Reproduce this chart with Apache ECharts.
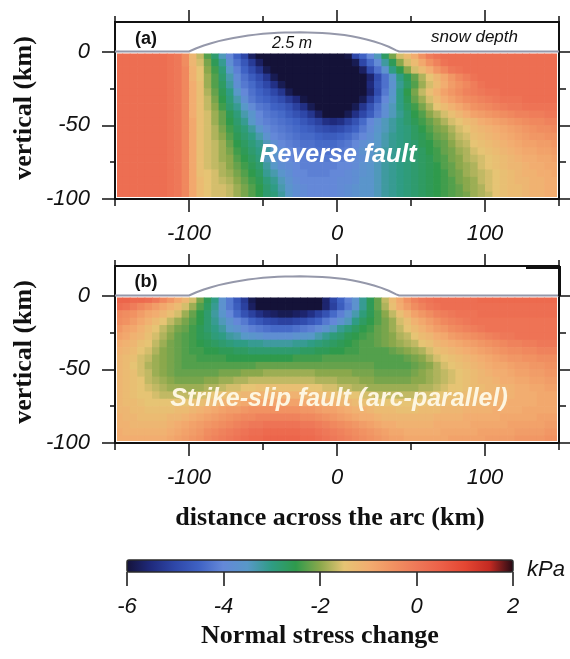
<!DOCTYPE html>
<html><head><meta charset="utf-8">
<script src="https://cdn.jsdelivr.net/npm/echarts@6/dist/echarts.min.js"></script>
<style>html,body{margin:0;padding:0;background:#fff}#c{width:570px;height:659px}</style>
</head><body><div id="c"></div>
<script>
// ---------- data ----------
const xCells = [-147.5,-142.5,-137.5,-132.5,-127.5,-122.5,-117.5,-112.5,-107.5,-102.5,-97.5,-92.5,-87.5,-82.5,-77.5,-72.5,-67.5,-62.5,-57.5,-52.5,-47.5,-42.5,-37.5,-32.5,-27.5,-22.5,-17.5,-12.5,-7.5,-2.5,2.5,7.5,12.5,17.5,22.5,27.5,32.5,37.5,42.5,47.5,52.5,57.5,62.5,67.5,72.5,77.5,82.5,87.5,92.5,97.5,102.5,107.5,112.5,117.5,122.5,127.5,132.5,137.5,142.5,147.5];
const zCells = [-2.5,-7.5,-12.5,-17.5,-22.5,-27.5,-32.5,-37.5,-42.5,-47.5,-52.5,-57.5,-62.5,-67.5,-72.5,-77.5,-82.5,-87.5,-92.5,-97.5];

// (a) Reverse fault, normal stress change (kPa), one row per depth
const reverseFault = [
[0.2,0.2,0.2,0.2,0.2,0.2,0.2,0.1,0.0,-0.4, -1.2,-1.7,-2.3,-2.8,-3.4,-4.0,-4.5,-5.0,-5.7,-6, -6,-6,-6,-6,-6,-6,-6,-6,-6,-6, -6,-5.9,-5.0,-4.5,-4.0,-3.4,-2.7,-2.1,-1.6,-1.3, -1.0,-0.5,-0.1,0.1,0.2,0.2,0.2,0.2,0.2,0.2, 0.2,0.2,0.2,0.2,0.2,0.2,0.2,0.2,0.2,0.2],
[0.2,0.2,0.2,0.2,0.2,0.2,0.2,0.1,0.0,-0.4, -1.2,-1.6,-2.1,-2.6,-3.1,-3.8,-4.3,-4.7,-5.2,-5.7, -6,-6,-6,-6,-6,-6,-6,-6,-6,-6, -6,-6,-5.8,-5.0,-4.4,-3.9,-3.2,-2.6,-2.0,-1.6, -1.3,-0.9,-0.5,-0.2,0.1,0.2,0.2,0.2,0.2,0.2, 0.2,0.2,0.2,0.2,0.2,0.2,0.2,0.2,0.2,0.2],
[0.2,0.2,0.2,0.2,0.2,0.2,0.2,0.1,0.0,-0.3, -1.1,-1.5,-2.0,-2.4,-2.9,-3.5,-4.1,-4.5,-4.9,-5.3, -5.8,-6,-6,-6,-6,-6,-6,-6,-6,-6, -6,-6,-6,-5.7,-4.9,-4.3,-3.7,-3.0,-2.5,-2.0, -1.6,-1.3,-1.0,-0.6,-0.3,0.0,0.1,0.2,0.2,0.2, 0.2,0.2,0.2,0.2,0.2,0.2,0.2,0.2,0.2,0.2],
[0.2,0.2,0.2,0.2,0.2,0.2,0.2,0.1,0.0,-0.3, -1.1,-1.5,-1.9,-2.3,-2.8,-3.3,-3.9,-4.3,-4.6,-4.9, -5.3,-5.8,-6,-6,-6,-6,-6,-6,-6,-6, -6,-6,-6,-6,-5.6,-4.9,-4.3,-3.6,-3.0,-2.6, -2.2,-1.8,-1.5,-1.2,-0.9,-0.6,-0.3,-0.1,0.1,0.2, 0.2,0.2,0.2,0.2,0.2,0.2,0.2,0.2,0.2,0.2],
[0.2,0.2,0.2,0.2,0.2,0.2,0.2,0.1,0.0,-0.3, -1.0,-1.4,-1.9,-2.3,-2.7,-3.2,-3.8,-4.2,-4.4,-4.7, -5.0,-5.4,-5.8,-6,-6,-6,-6,-6,-6,-6, -6,-6,-6,-6,-5.5,-4.8,-4.3,-3.7,-3.1,-2.7, -2.3,-1.9,-1.6,-1.3,-1.0,-0.7,-0.5,-0.3,-0.1,0.1, 0.2,0.2,0.2,0.2,0.2,0.2,0.2,0.2,0.2,0.2],
[0.2,0.2,0.2,0.2,0.2,0.2,0.2,0.1,0.0,-0.3, -1.0,-1.4,-1.8,-2.2,-2.6,-3.0,-3.5,-4.0,-4.3,-4.5, -4.7,-5.0,-5.3,-5.8,-6,-6,-6,-6,-6,-6, -6,-6,-6,-6,-5.6,-4.9,-4.2,-3.6,-3.0,-2.5, -2.1,-1.7,-1.4,-1.1,-0.8,-0.6,-0.4,-0.2,-0.1,0.0, 0.1,0.1,0.2,0.2,0.2,0.2,0.2,0.2,0.2,0.2],
[0.2,0.2,0.2,0.2,0.2,0.2,0.2,0.1,0.0,-0.3, -1.0,-1.4,-1.7,-2.1,-2.5,-2.9,-3.3,-3.8,-4.2,-4.4, -4.5,-4.7,-4.9,-5.2,-5.5,-5.9,-6,-6,-6,-6, -6,-6,-6,-5.8,-5.2,-4.6,-4.0,-3.5,-3.0,-2.6, -2.2,-1.9,-1.6,-1.3,-1.0,-0.8,-0.6,-0.4,-0.3,-0.2, -0.1,0.0,0.1,0.1,0.1,0.2,0.2,0.2,0.2,0.2],
[0.2,0.2,0.2,0.2,0.2,0.2,0.2,0.1,0.0,-0.3, -1.0,-1.4,-1.7,-2.0,-2.4,-2.8,-3.1,-3.5,-3.9,-4.2, -4.3,-4.5,-4.6,-4.8,-5.1,-5.4,-5.8,-6,-6,-6, -6,-6,-5.8,-5.3,-4.8,-4.3,-3.8,-3.4,-3.0,-2.7, -2.4,-2.1,-1.8,-1.5,-1.3,-1.1,-0.9,-0.7,-0.5,-0.4, -0.3,-0.2,-0.1,0.0,0.0,0.1,0.1,0.1,0.1,0.1],
[0.2,0.2,0.2,0.2,0.2,0.2,0.2,0.1,0.0,-0.3, -1.0,-1.4,-1.6,-1.9,-2.2,-2.6,-2.9,-3.3,-3.6,-4.0, -4.2,-4.3,-4.4,-4.6,-4.8,-5.0,-5.3,-5.7,-6,-6, -6,-5.8,-5.4,-5.0,-4.6,-4.2,-3.8,-3.4,-3.1,-2.8, -2.5,-2.3,-2.0,-1.8,-1.6,-1.4,-1.2,-1.0,-0.8,-0.7, -0.6,-0.5,-0.4,-0.3,-0.2,-0.2,-0.1,-0.1,0.0,0.0],
[0.2,0.2,0.2,0.2,0.2,0.2,0.2,0.1,0.0,-0.3, -0.9,-1.4,-1.6,-1.9,-2.2,-2.5,-2.8,-3.1,-3.5,-3.9, -4.1,-4.2,-4.3,-4.4,-4.5,-4.7,-4.9,-5.1,-5.4,-5.5, -5.4,-5.1,-4.8,-4.4,-4.0,-3.7,-3.4,-3.2,-3.0,-2.8, -2.6,-2.4,-2.2,-2.0,-1.8,-1.6,-1.5,-1.3,-1.2,-1.0, -0.9,-0.8,-0.7,-0.6,-0.5,-0.4,-0.3,-0.3,-0.2,-0.2],
[0.2,0.2,0.2,0.2,0.2,0.2,0.2,0.1,0.0,-0.3, -0.9,-1.4,-1.6,-1.8,-2.1,-2.4,-2.7,-2.9,-3.2,-3.6, -3.9,-4.1,-4.2,-4.3,-4.4,-4.5,-4.6,-4.8,-4.9,-5.0, -4.9,-4.7,-4.5,-4.2,-3.9,-3.6,-3.4,-3.2,-3.0,-2.9, -2.7,-2.5,-2.3,-2.1,-2.0,-1.8,-1.6,-1.5,-1.3,-1.2, -1.1,-1.0,-0.9,-0.8,-0.7,-0.6,-0.5,-0.4,-0.4,-0.3],
[0.2,0.2,0.2,0.2,0.2,0.2,0.2,0.1,0.0,-0.3, -0.9,-1.4,-1.6,-1.8,-2.0,-2.3,-2.6,-2.8,-3.0,-3.3, -3.7,-4.0,-4.1,-4.2,-4.3,-4.4,-4.4,-4.5,-4.6,-4.6, -4.5,-4.4,-4.2,-4.0,-3.8,-3.5,-3.3,-3.1,-3.0,-2.9, -2.7,-2.6,-2.4,-2.2,-2.1,-1.9,-1.7,-1.6,-1.4,-1.3, -1.2,-1.1,-1.0,-0.9,-0.8,-0.7,-0.6,-0.6,-0.5,-0.5],
[0.2,0.2,0.2,0.2,0.2,0.2,0.2,0.1,0.0,-0.3, -0.9,-1.4,-1.6,-1.7,-1.9,-2.2,-2.5,-2.7,-2.9,-3.1, -3.4,-3.8,-4.0,-4.1,-4.2,-4.3,-4.3,-4.4,-4.4,-4.4, -4.3,-4.2,-4.0,-3.8,-3.7,-3.5,-3.3,-3.1,-3.0,-2.9, -2.8,-2.6,-2.5,-2.3,-2.2,-2.0,-1.8,-1.7,-1.5,-1.4, -1.3,-1.2,-1.1,-1.0,-0.9,-0.8,-0.8,-0.7,-0.7,-0.6],
[0.2,0.2,0.2,0.2,0.2,0.2,0.2,0.1,0.0,-0.3, -0.9,-1.4,-1.6,-1.7,-1.9,-2.1,-2.4,-2.6,-2.8,-3.0, -3.2,-3.5,-3.8,-4.0,-4.1,-4.2,-4.2,-4.3,-4.3,-4.3, -4.2,-4.1,-3.9,-3.7,-3.6,-3.4,-3.2,-3.1,-3.0,-2.9, -2.8,-2.7,-2.5,-2.4,-2.2,-2.1,-1.9,-1.8,-1.6,-1.5, -1.4,-1.3,-1.2,-1.1,-1.0,-0.9,-0.9,-0.8,-0.8,-0.7],
[0.2,0.2,0.2,0.2,0.2,0.2,0.2,0.1,0.0,-0.3, -0.9,-1.4,-1.6,-1.7,-1.9,-2.0,-2.3,-2.5,-2.7,-2.9, -3.4,-3.7,-3.9,-4.0,-4.1,-4.1,-4.2,-4.2,-4.2,-4.1, -4.1,-4.0,-3.9,-3.8,-3.6,-3.4,-3.2,-3.1,-3.0,-2.9, -2.8,-2.7,-2.6,-2.4,-2.3,-2.1,-2.0,-1.8,-1.7,-1.6, -1.5,-1.4,-1.3,-1.2,-1.1,-1.0,-1.0,-0.9,-0.9,-0.8],
[0.2,0.2,0.2,0.2,0.2,0.2,0.2,0.1,0.0,-0.3, -0.9,-1.4,-1.6,-1.7,-1.8,-2.0,-2.2,-2.4,-2.6,-2.8, -3.2,-3.5,-3.8,-3.9,-4.0,-4.1,-4.1,-4.1,-4.1,-4.1, -4.0,-4.0,-3.9,-3.7,-3.6,-3.4,-3.2,-3.1,-3.0,-2.9, -2.8,-2.7,-2.6,-2.5,-2.3,-2.2,-2.0,-1.9,-1.8,-1.6, -1.5,-1.4,-1.3,-1.2,-1.2,-1.1,-1.0,-1.0,-0.9,-0.9],
[0.2,0.2,0.2,0.2,0.2,0.2,0.2,0.1,0.0,-0.3, -0.9,-1.4,-1.5,-1.6,-1.8,-1.9,-2.1,-2.3,-2.5,-2.7, -3.1,-3.3,-3.6,-3.8,-4.0,-4.0,-4.1,-4.1,-4.1,-4.0, -4.0,-3.9,-3.8,-3.7,-3.6,-3.4,-3.2,-3.1,-3.0,-2.9, -2.8,-2.7,-2.6,-2.5,-2.4,-2.2,-2.1,-1.9,-1.8,-1.7, -1.6,-1.5,-1.4,-1.3,-1.2,-1.1,-1.1,-1.0,-1.0,-0.9],
[0.2,0.2,0.2,0.2,0.2,0.2,0.2,0.1,0.0,-0.3, -0.9,-1.3,-1.5,-1.6,-1.7,-1.8,-2.0,-2.2,-2.4,-2.6, -2.9,-3.1,-3.4,-3.7,-3.9,-4.0,-4.0,-4.0,-4.0,-4.0, -3.9,-3.9,-3.8,-3.6,-3.6,-3.4,-3.2,-3.1,-3.0,-2.9, -2.8,-2.7,-2.6,-2.5,-2.4,-2.3,-2.1,-2.0,-1.9,-1.7, -1.6,-1.5,-1.4,-1.3,-1.2,-1.2,-1.1,-1.1,-1.0,-1.0],
[0.2,0.2,0.2,0.2,0.2,0.2,0.2,0.1,0.0,-0.3, -0.9,-1.3,-1.5,-1.6,-1.6,-1.7,-1.9,-2.1,-2.3,-2.5, -2.8,-3.0,-3.3,-3.6,-3.8,-3.9,-4.0,-4.0,-4.0,-4.0, -3.9,-3.8,-3.7,-3.6,-3.6,-3.4,-3.2,-3.1,-3.0,-2.9, -2.8,-2.7,-2.6,-2.5,-2.4,-2.3,-2.2,-2.0,-1.9,-1.8, -1.6,-1.5,-1.4,-1.3,-1.3,-1.2,-1.1,-1.1,-1.0,-1.0],
[0.2,0.2,0.2,0.2,0.2,0.2,0.2,0.1,0.0,-0.3, -0.9,-1.3,-1.5,-1.6,-1.6,-1.7,-1.9,-2.1,-2.3,-2.5, -2.8,-2.9,-3.2,-3.5,-3.8,-3.9,-4.0,-4.0,-4.0,-4.0, -3.9,-3.8,-3.7,-3.6,-3.6,-3.4,-3.2,-3.1,-3.0,-2.9, -2.8,-2.7,-2.6,-2.5,-2.4,-2.3,-2.2,-2.1,-1.9,-1.8, -1.7,-1.5,-1.4,-1.3,-1.3,-1.2,-1.1,-1.1,-1.0,-1.0]
];

// (b) Strike-slip fault (arc-parallel)
const strikeSlip = [
[0.4,0.4,0.3,0.3,0.2,0.0,-0.3,-0.6,-0.9,-1.2, -1.6,-2.1,-2.6,-3.0,-3.7,-4.2,-4.7,-5.2,-5.8,-6, -6,-6,-6,-6,-6,-6,-6,-6,-5.6,-5.0, -4.5,-4.1,-3.7,-3.1,-2.6,-2.2,-1.7,-1.3,-0.9,-0.5, -0.2,0.0,0.1,0.2,0.2,0.2,0.2,0.2,0.2,0.3, 0.3,0.3,0.3,0.3,0.3,0.3,0.3,0.3,0.3,0.3],
[0.2,0.1,-0.1,-0.3,-0.5,-0.7,-0.9,-1.1,-1.3,-1.6, -1.9,-2.3,-2.7,-3.1,-3.7,-4.2,-4.6,-5.1,-5.7,-6, -6,-6,-6,-6,-6,-6,-6,-6,-5.6,-5.1, -4.6,-4.2,-3.7,-3.1,-2.6,-2.2,-1.8,-1.4,-1.0,-0.7, -0.4,-0.2,0.0,0.1,0.2,0.2,0.2,0.2,0.2,0.2, 0.2,0.2,0.2,0.2,0.2,0.2,0.2,0.2,0.2,0.2],
[-0.3,-0.4,-0.5,-0.7,-0.9,-1.0,-1.2,-1.4,-1.6,-1.9, -2.2,-2.5,-2.8,-3.2,-3.6,-4.0,-4.4,-4.8,-5.1,-5.4, -5.6,-5.7,-5.8,-5.8,-5.7,-5.6,-5.4,-5.1,-4.8,-4.4, -4.1,-3.7,-3.3,-2.9,-2.6,-2.3,-2.0,-1.7,-1.4,-1.1, -0.8,-0.6,-0.4,-0.2,-0.1,0.0,0.1,0.1,0.1,0.2, 0.2,0.2,0.2,0.2,0.2,0.2,0.2,0.2,0.2,0.2],
[-0.4,-0.5,-0.7,-0.9,-1.1,-1.3,-1.5,-1.7,-1.9,-2.1, -2.3,-2.5,-2.8,-3.1,-3.4,-3.7,-4.0,-4.2,-4.5,-4.7, -4.9,-5.0,-5.1,-5.1,-5.0,-4.9,-4.7,-4.5,-4.2,-4.0, -3.7,-3.4,-3.0,-2.7,-2.5,-2.3,-2.1,-1.9,-1.6,-1.4, -1.1,-0.9,-0.7,-0.5,-0.3,-0.2,-0.1,0.0,0.1,0.1, 0.1,0.1,0.1,0.1,0.1,0.1,0.1,0.1,0.1,0.1],
[-0.6,-0.8,-0.9,-1.1,-1.3,-1.5,-1.7,-1.9,-2.1,-2.2, -2.4,-2.6,-2.8,-3.0,-3.2,-3.5,-3.7,-3.9,-4.1,-4.2, -4.3,-4.4,-4.4,-4.4,-4.3,-4.2,-4.1,-3.9,-3.7,-3.4, -3.1,-2.9,-2.7,-2.5,-2.4,-2.2,-2.1,-1.9,-1.7,-1.5, -1.3,-1.1,-0.9,-0.7,-0.6,-0.4,-0.3,-0.2,-0.1,0.0, 0.1,0.1,0.1,0.1,0.1,0.1,0.1,0.1,0.1,0.1],
[-0.8,-0.9,-1.1,-1.2,-1.4,-1.6,-1.8,-2.0,-2.2,-2.3, -2.4,-2.6,-2.7,-2.9,-3.0,-3.2,-3.3,-3.5,-3.6,-3.7, -3.8,-3.8,-3.8,-3.8,-3.7,-3.6,-3.5,-3.3,-3.1,-2.9, -2.8,-2.6,-2.5,-2.4,-2.3,-2.2,-2.1,-2.0,-1.8,-1.7, -1.5,-1.3,-1.2,-1.0,-0.9,-0.7,-0.6,-0.5,-0.4,-0.3, -0.2,-0.1,0.0,0.0,0.1,0.1,0.1,0.1,0.1,0.1],
[-1.0,-1.1,-1.2,-1.4,-1.5,-1.7,-1.9,-2.1,-2.2,-2.3, -2.4,-2.5,-2.6,-2.7,-2.8,-2.9,-3.0,-3.0,-3.1,-3.1, -3.2,-3.2,-3.2,-3.2,-3.1,-3.1,-3.0,-2.9,-2.8,-2.7, -2.6,-2.5,-2.4,-2.3,-2.3,-2.2,-2.1,-2.0,-1.9,-1.8, -1.7,-1.5,-1.4,-1.2,-1.1,-1.0,-0.9,-0.8,-0.7,-0.6, -0.5,-0.4,-0.3,-0.2,-0.2,-0.1,-0.1,0.0,0.0,0.0],
[-1.1,-1.2,-1.3,-1.5,-1.6,-1.8,-2.0,-2.1,-2.2,-2.3, -2.4,-2.4,-2.5,-2.5,-2.6,-2.6,-2.7,-2.7,-2.8,-2.8, -2.8,-2.8,-2.8,-2.8,-2.8,-2.7,-2.7,-2.6,-2.6,-2.5, -2.5,-2.4,-2.4,-2.3,-2.3,-2.3,-2.3,-2.2,-2.1,-2.0, -1.9,-1.8,-1.6,-1.4,-1.3,-1.2,-1.1,-1.0,-0.9,-0.8, -0.7,-0.6,-0.5,-0.4,-0.4,-0.3,-0.3,-0.2,-0.2,-0.2],
[-1.2,-1.3,-1.4,-1.6,-1.7,-1.9,-2.0,-2.1,-2.2,-2.3, -2.3,-2.4,-2.4,-2.4,-2.4,-2.5,-2.5,-2.5,-2.5,-2.5, -2.5,-2.5,-2.5,-2.5,-2.4,-2.4,-2.4,-2.4,-2.3,-2.3, -2.3,-2.3,-2.3,-2.3,-2.3,-2.3,-2.3,-2.3,-2.3,-2.2, -2.1,-2.0,-1.8,-1.6,-1.5,-1.4,-1.3,-1.2,-1.1,-1.0, -0.9,-0.8,-0.7,-0.6,-0.6,-0.5,-0.5,-0.4,-0.4,-0.4],
[-1.2,-1.3,-1.5,-1.6,-1.8,-1.9,-2.0,-2.1,-2.2,-2.3, -2.3,-2.3,-2.3,-2.3,-2.3,-2.3,-2.3,-2.3,-2.3,-2.2, -2.2,-2.2,-2.2,-2.2,-2.2,-2.2,-2.2,-2.2,-2.2,-2.2, -2.2,-2.2,-2.2,-2.2,-2.2,-2.3,-2.3,-2.3,-2.3,-2.3, -2.2,-2.1,-2.0,-1.8,-1.6,-1.5,-1.4,-1.3,-1.2,-1.1, -1.0,-0.9,-0.9,-0.8,-0.7,-0.7,-0.6,-0.6,-0.5,-0.5],
[-1.2,-1.3,-1.4,-1.6,-1.7,-1.9,-2.0,-2.1,-2.2,-2.2, -2.2,-2.2,-2.2,-2.2,-2.1,-2.1,-2.1,-2.0,-2.0,-2.0, -1.9,-1.9,-1.9,-1.9,-1.9,-1.9,-1.9,-2.0,-2.0,-2.0, -2.0,-2.0,-2.1,-2.1,-2.1,-2.2,-2.2,-2.2,-2.2,-2.2, -2.1,-2.0,-1.9,-1.8,-1.7,-1.6,-1.5,-1.4,-1.3,-1.2, -1.1,-1.0,-1.0,-0.9,-0.8,-0.8,-0.7,-0.7,-0.6,-0.6],
[-1.2,-1.3,-1.4,-1.5,-1.7,-1.8,-1.9,-2.0,-2.1,-2.1, -2.1,-2.1,-2.0,-2.0,-1.9,-1.9,-1.8,-1.8,-1.7,-1.7, -1.7,-1.7,-1.7,-1.7,-1.7,-1.7,-1.7,-1.8,-1.8,-1.8, -1.9,-1.9,-1.9,-2.0,-2.0,-2.1,-2.1,-2.1,-2.1,-2.1, -2.0,-2.0,-1.9,-1.8,-1.7,-1.6,-1.5,-1.4,-1.3,-1.2, -1.2,-1.1,-1.0,-1.0,-0.9,-0.9,-0.8,-0.8,-0.7,-0.7],
[-1.2,-1.3,-1.4,-1.5,-1.6,-1.7,-1.8,-1.9,-1.9,-1.9, -1.9,-1.9,-1.8,-1.8,-1.7,-1.6,-1.6,-1.5,-1.5,-1.4, -1.4,-1.4,-1.4,-1.4,-1.4,-1.4,-1.5,-1.5,-1.6,-1.6, -1.7,-1.7,-1.8,-1.8,-1.9,-1.9,-1.9,-1.9,-1.9,-1.9, -1.9,-1.8,-1.8,-1.7,-1.6,-1.5,-1.5,-1.4,-1.3,-1.3, -1.2,-1.2,-1.1,-1.1,-1.0,-1.0,-0.9,-0.9,-0.8,-0.8],
[-1.2,-1.3,-1.4,-1.5,-1.5,-1.6,-1.7,-1.7,-1.7,-1.7, -1.7,-1.6,-1.6,-1.5,-1.4,-1.4,-1.3,-1.2,-1.2,-1.1, -1.1,-1.1,-1.1,-1.1,-1.1,-1.2,-1.2,-1.3,-1.3,-1.4, -1.4,-1.5,-1.5,-1.6,-1.6,-1.7,-1.7,-1.7,-1.7,-1.7, -1.7,-1.6,-1.6,-1.5,-1.5,-1.4,-1.4,-1.3,-1.3,-1.2, -1.2,-1.1,-1.1,-1.1,-1.0,-1.0,-1.0,-0.9,-0.9,-0.9],
[-1.2,-1.3,-1.3,-1.4,-1.5,-1.5,-1.5,-1.5,-1.5,-1.5, -1.4,-1.4,-1.3,-1.2,-1.1,-1.1,-1.0,-0.9,-0.9,-0.8, -0.8,-0.8,-0.8,-0.8,-0.8,-0.9,-0.9,-1.0,-1.1,-1.1, -1.2,-1.2,-1.3,-1.4,-1.4,-1.5,-1.5,-1.5,-1.5,-1.5, -1.5,-1.5,-1.4,-1.4,-1.3,-1.3,-1.3,-1.2,-1.2,-1.2, -1.1,-1.1,-1.1,-1.0,-1.0,-1.0,-1.0,-0.9,-0.9,-0.9],
[-1.2,-1.2,-1.3,-1.3,-1.4,-1.4,-1.4,-1.4,-1.3,-1.3, -1.2,-1.1,-1.0,-0.9,-0.8,-0.7,-0.7,-0.6,-0.5,-0.5, -0.5,-0.5,-0.5,-0.5,-0.5,-0.6,-0.6,-0.7,-0.8,-0.8, -0.9,-1.0,-1.1,-1.1,-1.2,-1.3,-1.3,-1.3,-1.4,-1.4, -1.4,-1.3,-1.3,-1.3,-1.2,-1.2,-1.2,-1.1,-1.1,-1.1, -1.1,-1.0,-1.0,-1.0,-1.0,-0.9,-0.9,-0.9,-0.9,-0.9],
[-1.1,-1.2,-1.2,-1.3,-1.3,-1.3,-1.3,-1.2,-1.2,-1.1, -1.0,-0.9,-0.8,-0.7,-0.6,-0.5,-0.4,-0.3,-0.3,-0.2, -0.2,-0.2,-0.2,-0.2,-0.2,-0.3,-0.3,-0.4,-0.5,-0.6, -0.7,-0.8,-0.9,-1.0,-1.0,-1.1,-1.2,-1.2,-1.2,-1.2, -1.2,-1.2,-1.2,-1.1,-1.1,-1.1,-1.1,-1.0,-1.0,-1.0, -1.0,-1.0,-0.9,-0.9,-0.9,-0.9,-0.9,-0.8,-0.8,-0.8],
[-1.1,-1.1,-1.2,-1.2,-1.2,-1.2,-1.2,-1.1,-1.0,-0.9, -0.8,-0.7,-0.6,-0.5,-0.4,-0.3,-0.2,-0.1,0.0,0.0, 0.1,0.1,0.1,0.1,0.1,0.0,0.0,-0.1,-0.2,-0.3, -0.4,-0.5,-0.6,-0.7,-0.8,-0.9,-1.0,-1.0,-1.1,-1.1, -1.1,-1.1,-1.1,-1.0,-1.0,-1.0,-1.0,-1.0,-0.9,-0.9, -0.9,-0.9,-0.9,-0.8,-0.8,-0.8,-0.8,-0.8,-0.7,-0.7],
[-1.0,-1.1,-1.1,-1.1,-1.1,-1.1,-1.1,-1.0,-0.9,-0.8, -0.7,-0.6,-0.4,-0.3,-0.2,-0.1,0.0,0.1,0.2,0.2, 0.3,0.3,0.3,0.3,0.3,0.2,0.2,0.1,0.0,-0.1, -0.2,-0.3,-0.4,-0.5,-0.6,-0.7,-0.8,-0.9,-0.9,-1.0, -1.0,-1.0,-1.0,-1.0,-0.9,-0.9,-0.9,-0.9,-0.9,-0.8, -0.8,-0.8,-0.8,-0.8,-0.7,-0.7,-0.7,-0.7,-0.6,-0.6],
[-1.0,-1.0,-1.0,-1.0,-1.0,-1.0,-1.0,-0.9,-0.8,-0.7, -0.6,-0.5,-0.3,-0.2,-0.1,0.0,0.1,0.2,0.3,0.3, 0.4,0.4,0.4,0.4,0.4,0.3,0.3,0.2,0.1,0.0, -0.1,-0.2,-0.3,-0.4,-0.5,-0.6,-0.7,-0.8,-0.8,-0.9, -0.9,-0.9,-0.9,-0.9,-0.9,-0.8,-0.8,-0.8,-0.8,-0.8, -0.7,-0.7,-0.7,-0.7,-0.6,-0.6,-0.6,-0.6,-0.5,-0.5]
];

// snow load profile (depth in metres along the section)
const snowX = [-150,-100,-95,-90,-85,-80,-75,-70,-65,-60,-55,-50,-45,-40,-35,-30,-25,-20,-15,-10,-5,0,5,10,15,20,25,30,35,40,42,150];
const snowDepth = [0,0,0.42,0.78,1.08,1.35,1.57,1.77,1.93,2.08,2.2,2.3,2.38,2.43,2.47,2.49,2.5,2.49,2.46,2.42,2.35,2.26,2.14,1.99,1.8,1.57,1.3,1.0,0.62,0.15,0,0];

const xTicks = [-100, 0, 100];
const xMinor = [-150, -50, 50, 150];
const zTicks = [-100, -50, 0];
const zMinor = [-75, -25];
const cbRange = [-6, 2];
const cbTicks = [-6, -4, -2, 0, 2];
const palette = ['#141238','#1f2a7c','#2e47a8','#3f62c4','#6488d8','#5898c8','#2f9c84','#2f9a4c','#8aa84c','#e6c474','#f2ad70','#f19262','#ee7858','#ec6048','#e44632','#c42a22','#200a14'];

// ---------- chart ----------
const SNOW_KM_PER_M = 5.2; // vertical exaggeration of the snow profile
const SANS = '"Liberation Sans", Arial, Helvetica, sans-serif';
const SERIF = '"Liberation Serif", "Times New Roman", serif';
const TICK = {color: '#111', width: 1.5};
const LABEL = {fontFamily: SANS, fontStyle: 'italic', fontSize: 22, color: '#111'};

function cells(rows) {
  const out = [];
  rows.forEach((r, j) => r.forEach((v, i) => out.push([xCells[i], zCells[j], v])));
  return out;
}
function renderCell(params, api) {
  const x = api.value(0), z = api.value(1);
  const a = api.coord([x - 2.5, z + 2.5]);
  const b = api.coord([x + 2.5, z - 2.5]);
  const tl = api.coord([-150, 0]);
  const br = api.coord([150, -100]);
  const clipR = {x: tl[0] + 2, y: tl[1] + 2, width: br[0] - tl[0] - 4, height: br[1] - tl[1] - 4};
  const r = echarts.graphic.clipRectByRect({x: a[0], y: a[1], width: b[0] - a[0] + 0.7, height: b[1] - a[1] + 0.7}, clipR);
  if (!r) return;
  return {type: 'rect', shape: r, style: {fill: api.visual('color')}};
}
function tickAxis(dim, g, pos, vals, len, labels) {
  const ax = {gridIndex: g, type: 'value', position: pos, axisLine: {show: false, onZero: false}, splitLine: {show: false},
    axisTick: {show: true, customValues: vals, length: len, lineStyle: TICK},
    axisLabel: labels ? Object.assign({}, LABEL, {customValues: vals, margin: dim === 'x' ? 24 : 25}) : {show: false}};
  if (dim === 'x') { ax.min = -150; ax.max = 150; } else { ax.min = -100; ax.max = 20; }
  return ax;
}
function xAxesFor(g) {
  return [tickAxis('x', g, 'bottom', xTicks, 13, true), tickAxis('x', g, 'bottom', xMinor, 7, false),
          tickAxis('x', g, 'top', xTicks, 12, false), tickAxis('x', g, 'top', xMinor, 6, false)];
}
function yAxesFor(g) {
  return [tickAxis('y', g, 'left', zTicks, 13, true), tickAxis('y', g, 'left', zMinor, 5, false),
          tickAxis('y', g, 'right', zTicks, 11, false), tickAxis('y', g, 'right', zMinor, 7, false),
          {gridIndex: g, type: 'value', min: -100 / SNOW_KM_PER_M, max: 20 / SNOW_KM_PER_M, show: false, axisLine: {onZero: false}}];
}
function T(text, x, y, font, fill, align, rot) {
  return {type: 'text', x: x, y: y, rotation: rot || 0, z: 100,
    style: {text: text, font: font, fill: fill || '#111', align: align || 'center', verticalAlign: 'middle'}};
}
const snowData = snowX.map((x, i) => [x, snowDepth[i]]);
const frame = {show: true, borderColor: '#111', borderWidth: 2, backgroundColor: '#fff', outerBoundsMode: 'none', containLabel: false};

const option = {
  animation: false,
  backgroundColor: '#fff',
  grid: [
    Object.assign({left: 115, top: 22, width: 444, height: 177}, frame),
    Object.assign({left: 115, top: 266, width: 444, height: 177}, frame),
    {left: 127, top: 560, width: 386, height: 12, show: false, outerBoundsMode: 'none', containLabel: false}
  ],
  xAxis: [].concat(xAxesFor(0), xAxesFor(1), [{
    gridIndex: 2, type: 'value', min: cbRange[0], max: cbRange[1], position: 'bottom',
    axisLine: {show: false, onZero: false}, splitLine: {show: false},
    axisTick: {show: true, customValues: cbTicks, length: 14, lineStyle: TICK},
    axisLabel: Object.assign({}, LABEL, {customValues: cbTicks, margin: 24})
  }]),
  yAxis: [].concat(yAxesFor(0), yAxesFor(1), [{gridIndex: 2, type: 'value', min: 0, max: 1, show: false, axisLine: {onZero: false}}]),
  visualMap: {type: 'continuous', show: false, min: cbRange[0], max: cbRange[1], dimension: 2, seriesIndex: [0, 1],
    inRange: {color: palette}},
  series: [
    {type: 'custom', xAxisIndex: 0, yAxisIndex: 0, renderItem: renderCell, data: cells(reverseFault),
      dimensions: ['x', 'z', 'v'], encode: {x: 0, y: 1}, silent: true, z: 1},
    {type: 'custom', xAxisIndex: 4, yAxisIndex: 5, renderItem: renderCell, data: cells(strikeSlip),
      dimensions: ['x', 'z', 'v'], encode: {x: 0, y: 1}, silent: true, z: 1},
    {type: 'line', xAxisIndex: 0, yAxisIndex: 4, data: snowData, symbol: 'none', silent: true, z: 5,
      lineStyle: {color: '#9598aa', width: 2}},
    {type: 'line', xAxisIndex: 4, yAxisIndex: 9, data: snowData, symbol: 'none', silent: true, z: 5,
      lineStyle: {color: '#9598aa', width: 2}},
    {type: 'custom', xAxisIndex: 8, yAxisIndex: 10, data: [cbRange], silent: true, z: 2,
      renderItem: function (params, api) {
        const a = api.coord([api.value(0), 1]);
        const b = api.coord([api.value(1), 0]);
        return {type: 'rect', shape: {x: a[0], y: a[1], width: b[0] - a[0], height: b[1] - a[1], r: 2},
          style: {fill: new echarts.graphic.LinearGradient(0, 0, 1, 0,
            palette.map((c, i) => ({offset: i / (palette.length - 1), color: c}))), stroke: '#2a2a2a', lineWidth: 1.5}};
      }}
  ],
  graphic: [
    T('(a)', 146, 39, 'bold 18px ' + SANS),
    T('snow depth', 518, 37, 'italic 17px ' + SANS, '#111', 'right'),
    T('2.5 m', 292, 44, 'italic 16px ' + SANS),
    T('Reverse fault', 338, 155, 'bold italic 25px ' + SANS, '#ffffff'),
    T('(b)', 146, 282, 'bold 18px ' + SANS),
    T('Strike-slip fault (arc-parallel)', 339, 399, 'bold italic 25px ' + SANS, '#fdf6e2'),
    T('vertical (km)', 24, 108, 'bold 26px ' + SERIF, '#111', 'center', Math.PI / 2),
    T('vertical (km)', 24, 352, 'bold 26px ' + SERIF, '#111', 'center', Math.PI / 2),
    T('distance across the arc (km)', 330, 518, 'bold 26px ' + SERIF),
    T('kPa', 527, 570, 'italic 22px ' + SANS, '#111', 'left'),
    T('Normal stress change', 320, 636, 'bold 26px ' + SERIF),
    {type: 'line', z: 100, shape: {x1: 526, y1: 267, x2: 560, y2: 267}, style: {stroke: '#111', lineWidth: 4}},
    {type: 'line', z: 100, shape: {x1: 559.5, y1: 266, x2: 559.5, y2: 296}, style: {stroke: '#111', lineWidth: 3}}
  ]
};
const chart = echarts.init(document.getElementById('c'), null, {renderer: 'canvas'});
chart.setOption(option);
</script>
</body></html>
